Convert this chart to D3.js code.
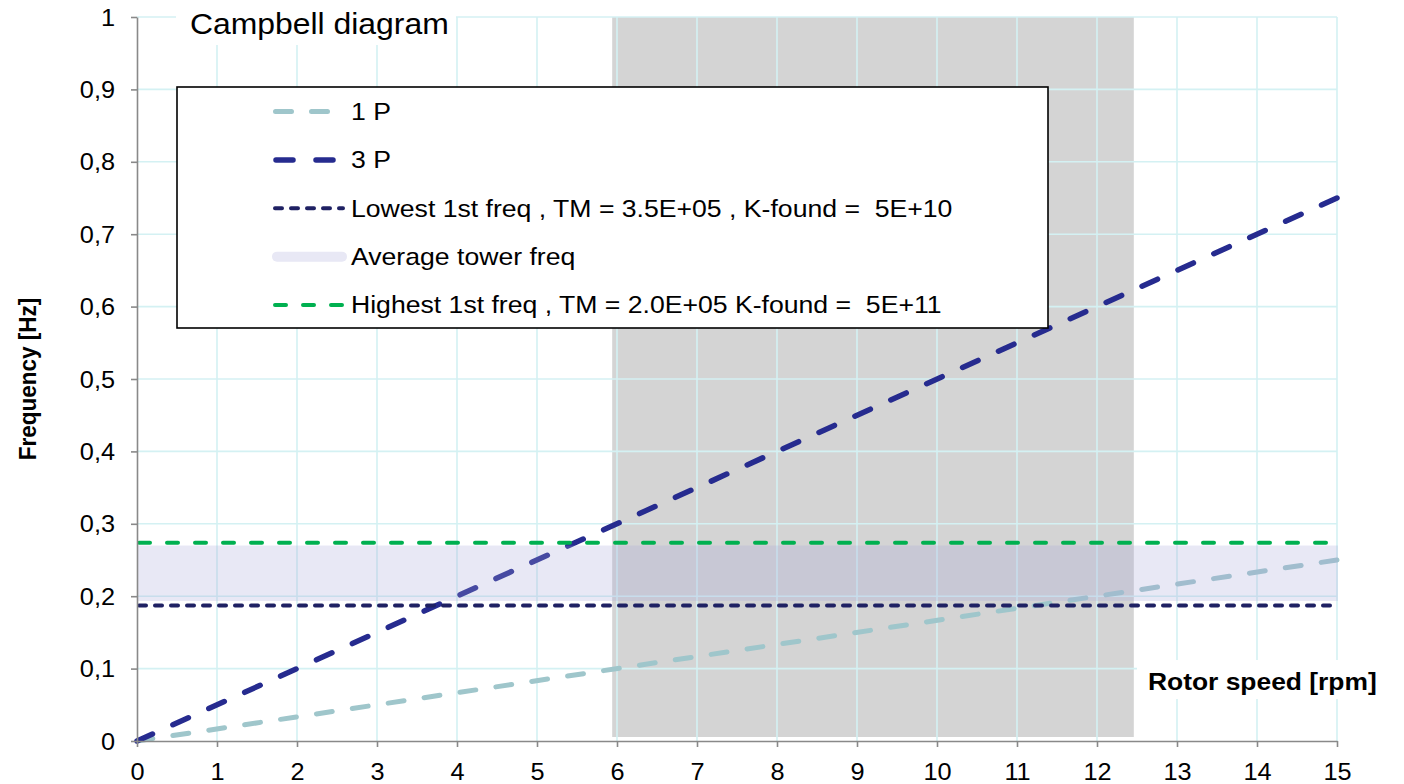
<!DOCTYPE html>
<html lang="en">
<head>
<meta charset="UTF-8">
<title>Campbell diagram</title>
<script src="https://d3js.org/d3.v7.min.js"></script>
<style>
  body { margin: 0; background: #fff; }
  text { font-family: "Liberation Sans", Arial, sans-serif; fill: #000; white-space: pre; }
</style>
</head>
<body>
<div id="chart"></div>
<script>
  // DATA //
  var rotorSpeed = [0, 15];                 // rpm
  var onePFreq = [0, 0.25];                 // 1P = rpm / 60
  var threePFreq = [0, 0.75];               // 3P = 3 * rpm / 60
  var lowestFreq = 0.1872;
  var highestFreq = 0.2737;
  var towerBand = [0.1934, 0.2700];         // average tower freq band
  var operatingRange = [5.94, 12.46];       // rpm
  var xTicks = d3.range(0, 16);
  var yTicks = [0, 0.1, 0.2, 0.3, 0.4, 0.5, 0.6, 0.7, 0.8, 0.9, 1];
  var yTickLabels = ["0", "0,1", "0,2", "0,3", "0,4", "0,5", "0,6", "0,7", "0,8", "0,9", "1"];
  var legendLabels = [
    "1 P",
    "3 P",
    "Lowest 1st freq , TM = 3.5E+05 , K-found =  5E+10",
    "Average tower freq",
    "Highest 1st freq , TM = 2.0E+05 K-found =  5E+11"
  ];

  // DIMENSIONS //
  var W = 1404, H = 784;
  var plotLeft = 137, plotRight = 1337, plotTop = 17, plotBottom = 741;
  var sx = 1.1;   // text in the picture is a bit wider than tall

  var svg = d3.select("#chart").append("svg")
    .attr("width", W).attr("height", H);

  var x = d3.scaleLinear().domain([0, 15]).range([plotLeft, plotRight]);
  var y = d3.scaleLinear().domain([0, 1]).range([plotBottom, plotTop]);

  var colors = {
    oneP: "#9fc6cb", threeP: "#262b8f", lowest: "#1f2163",
    highest: "#00b050", grey: "#d4d4d4", grid: "#d4f1f3", axis: "#898989"
  };

  function stretched(sel, tx, ty) {
    return sel.attr("transform", "translate(" + tx + "," + ty + ") scale(" + sx + ",1)");
  }

  // dash pattern stretched a little so that the line ends on a dash (as Excel does)
  function fitDash(path, dash, period) {
    var len = path.node().getTotalLength();
    var n = Math.max(1, Math.round((len - dash) / period));
    var p = (len - dash) / n;
    path.attr("stroke-dasharray", dash + "," + (p - dash));
  }

  // operating range
  svg.append("rect")
    .attr("x", x(operatingRange[0]))
    .attr("width", x(operatingRange[1]) - x(operatingRange[0]))
    .attr("y", y(1))
    .attr("height", y(0) - y(1) - 4)
    .attr("fill", colors.grey);

  // gridlines
  svg.append("g").selectAll("line").data(xTicks.slice(1)).join("line")
    .attr("x1", d => x(d)).attr("x2", d => x(d))
    .attr("y1", y(1)).attr("y2", y(0))
    .attr("stroke", colors.grid).attr("stroke-width", 1.6);
  svg.append("g").selectAll("line").data(yTicks.slice(1)).join("line")
    .attr("x1", x(0)).attr("x2", x(15))
    .attr("y1", d => y(d)).attr("y2", d => y(d))
    .attr("stroke", colors.grid).attr("stroke-width", 1.6);

  // 1P and 3P
  var line = d3.line().x(d => x(d[0])).y(d => y(d[1]));
  var p1 = svg.append("path")
    .attr("d", line(d3.zip(rotorSpeed, onePFreq)))
    .attr("fill", "none").attr("stroke", colors.oneP)
    .attr("stroke-width", 5).attr("stroke-linecap", "round");
  fitDash(p1, 16, 36);
  var p3 = svg.append("path")
    .attr("d", line(d3.zip(rotorSpeed, threePFreq)))
    .attr("fill", "none").attr("stroke", colors.threeP)
    .attr("stroke-width", 5.5).attr("stroke-linecap", "round");
  fitDash(p3, 17, 40);

  // average tower freq band
  svg.append("rect")
    .attr("x", x(0)).attr("width", x(15) - x(0) + 1)
    .attr("y", y(towerBand[1]))
    .attr("height", y(towerBand[0]) - y(towerBand[1]))
    .attr("fill", "rgb(165,165,216)").attr("fill-opacity", 0.26);

  // lowest / highest
  svg.append("line")
    .attr("x1", x(0) + 2).attr("x2", x(15) - 6)
    .attr("y1", y(lowestFreq)).attr("y2", y(lowestFreq))
    .attr("stroke", colors.lowest).attr("stroke-width", 4)
    .attr("stroke-linecap", "round").attr("stroke-dasharray", "7,9");
  svg.append("line")
    .attr("x1", x(0) + 2).attr("x2", x(15) - 6)
    .attr("y1", y(highestFreq)).attr("y2", y(highestFreq))
    .attr("stroke", colors.highest).attr("stroke-width", 4)
    .attr("stroke-linecap", "round").attr("stroke-dasharray", "11,17");

  // AXES //
  var yAxis = svg.append("g")
    .attr("transform", "translate(" + plotLeft + ",0)")
    .call(d3.axisLeft(y).tickValues(yTicks).tickSize(6).tickSizeOuter(0)
      .tickFormat((d, i) => yTickLabels[i]));
  var xAxis = svg.append("g")
    .attr("transform", "translate(0," + plotBottom + ")")
    .call(d3.axisBottom(x).tickValues(xTicks).tickSize(6).tickSizeOuter(0));

  [yAxis, xAxis].forEach(function(a) {
    a.select(".domain").attr("stroke", colors.axis).attr("stroke-width", 1.6);
    a.selectAll(".tick line").attr("stroke", colors.axis).attr("stroke-width", 1.6);
    a.selectAll(".tick text")
      .attr("font-family", "Liberation Sans, Arial, sans-serif")
      .attr("font-size", 23).attr("fill", "#000");
  });
  yAxis.selectAll(".tick text")
    .attr("x", -20).attr("dy", "0.35em")
    .attr("transform", "scale(" + sx + ",1)");
  xAxis.selectAll(".tick text")
    .attr("y", 39).attr("dy", 0)
    .attr("transform", "scale(" + sx + ",1)");

  // axis titles
  svg.append("rect").attr("x", 1137).attr("y", 660).attr("width", 250).attr("height", 39)
    .attr("fill", "#fff");
  stretched(svg.append("text"), 1148, 690)
    .attr("font-size", 24).attr("font-weight", "bold")
    .text("Rotor speed [rpm]");
  svg.append("text")
    .attr("transform", "translate(36,379) scale(" + sx + ",1) rotate(-90)")
    .attr("text-anchor", "middle")
    .attr("font-size", 22.5).attr("font-weight", "bold")
    .text("Frequency [Hz]");

  // chart title
  svg.append("rect").attr("x", 176).attr("y", 0).attr("width", 280).attr("height", 45)
    .attr("fill", "#fff");
  stretched(svg.append("text"), 190, 34)
    .attr("font-size", 29)
    .text("Campbell diagram");

  // LEGEND //
  var legend = svg.append("g");
  legend.append("rect")
    .attr("x", 177).attr("y", 87).attr("width", 871).attr("height", 241)
    .attr("fill", "#fff").attr("stroke", "#000").attr("stroke-width", 1.6);

  var rowY = d3.scalePoint().domain(d3.range(legendLabels.length)).range([111.5, 305]);
  var samples = [
    { x1: 275.5, x2: 329.5, color: colors.oneP, w: 5, dash: "16,20" },
    { x1: 276, x2: 335, color: colors.threeP, w: 5.5, dash: "17,23" },
    { x1: 275, x2: 343, color: colors.lowest, w: 4, dash: "7,9" },
    { x1: 277, x2: 342, color: "#e8e8f5", w: 10, dash: null },
    { x1: 275, x2: 343, color: colors.highest, w: 4, dash: "11,17" }
  ];
  samples.forEach(function(s, i) {
    legend.append("line")
      .attr("x1", s.x1).attr("x2", s.x2)
      .attr("y1", rowY(i)).attr("y2", rowY(i))
      .attr("stroke", s.color).attr("stroke-width", s.w)
      .attr("stroke-linecap", "round")
      .attr("stroke-dasharray", s.dash);
    stretched(legend.append("text"), 351, rowY(i))
      .attr("dy", "0.35em").attr("font-size", 24.2)
      .text(legendLabels[i]);
  });
</script>
</body>
</html>
